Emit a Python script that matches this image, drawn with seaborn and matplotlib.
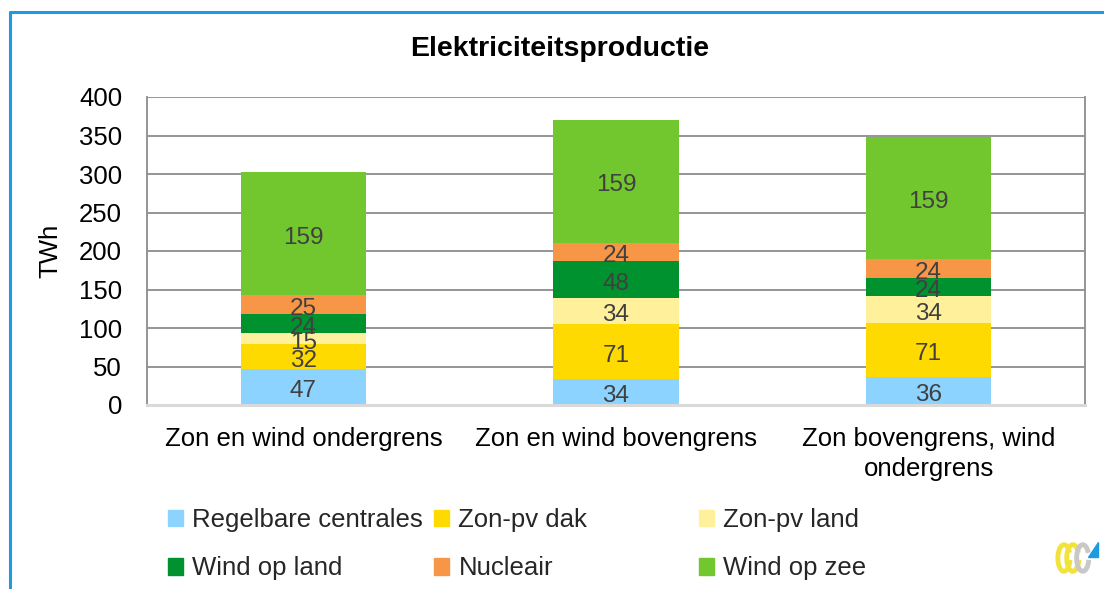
import pandas as pd
import matplotlib.pyplot as plt
import matplotlib.patches as mpatches
from matplotlib.lines import Line2D
import seaborn as sns

# data
scenarios = ['Zon en wind ondergrens', 'Zon en wind bovengrens', 'Zon bovengrens, wind\nondergrens']
sources = ['Regelbare centrales', 'Zon-pv dak', 'Zon-pv land', 'Wind op land', 'Nucleair', 'Wind op zee']
regelbare = [47, 34, 36]
zon_dak = [32, 71, 71]
zon_land = [15, 34, 34]
wind_land = [24, 48, 24]
nucleair = [25, 24, 24]
wind_zee = [159, 159, 159]
colors = ['#8DD3FF', '#FFDA00', '#FFF19C', '#00922F', '#F79646', '#72C62E']

rows = []
for name, vals in zip(sources, [regelbare, zon_dak, zon_land, wind_land, nucleair, wind_zee]):
    for sc, v in zip(scenarios, vals):
        rows.append({'scenario': sc, 'bron': name, 'TWh': v})
df = pd.DataFrame(rows)

sns.set_theme(style='white')
plt.rcParams['font.family'] = ['Liberation Sans', 'DejaVu Sans']

fig = plt.figure(figsize=(11.04, 5.89), dpi=100)
ax = fig.add_axes([147/1104, 1-405/589, (1085-147)/1104, (405-97)/589])

# seaborn stacks the last hue level at the bottom, so reverse the order
hue_order = sources[::-1]
pal = dict(zip(sources, colors))
sns.histplot(data=df, x='scenario', weights='TWh', hue='bron', hue_order=hue_order,
             multiple='stack', discrete=True, shrink=0.4, palette=pal,
             alpha=1, linewidth=0, legend=False, ax=ax)

for cont in ax.containers:
    ax.bar_label(cont, labels=['%d' % round(b.get_height()) for b in cont],
                 label_type='center', fontsize=17.5, color='#404040', padding=-3)

ax.set_xlim(-0.5, 2.5)
ax.set_ylim(0, 400)
ax.set_yticks(range(0, 401, 50))
ax.set_xticks(range(3))
ax.set_xticklabels(scenarios, fontsize=18.5, color='#000000', linespacing=1.3, va='top')
ax.tick_params(axis='x', length=0, pad=16)
ax.tick_params(axis='y', length=0, pad=18, labelsize=18.5, labelcolor='#000000')
ax.yaxis.grid(True, color='#8C8C8C', linewidth=1.3)
ax.set_axisbelow(True)
ax.set_xlabel('')
ax.set_ylabel('TWh', fontsize=18.5, color='#000000')
ax.yaxis.set_label_coords((62-147)/938, 0.5)
for s in ['left', 'right']:
    ax.spines[s].set_color('#8C8C8C')
    ax.spines[s].set_linewidth(1.3)
ax.spines['top'].set_visible(False)
ax.spines['bottom'].set_color('#D9D9D9')
ax.spines['bottom'].set_linewidth(2.2)

fig.text(560/1104, 1-49/589, 'Elektriciteitsproductie', ha='center', va='center',
         fontsize=20.5, fontweight='bold', color='#000000')

# legend, three columns with two rows each
col_x = [168, 434, 699]
for i in range(3):
    idx = [i, i + 3]
    handles = [mpatches.Patch(color=colors[j]) for j in idx]
    labels = [sources[j] for j in idx]
    fig.legend(handles, labels, loc='upper left', bbox_to_anchor=(col_x[i]/1104, 1-508/589),
               frameon=False, fontsize=18.5, handlelength=0.6, handleheight=0.6,
               handletextpad=0.35, labelspacing=0.95, borderaxespad=0, borderpad=0)

# outer frame (top and left edge)
fig.add_artist(Line2D([10/1104, 10/1104], [0, 1-12/589], color='#1E9BE0', linewidth=2.2))
fig.add_artist(Line2D([10/1104, 1], [1-12/589, 1-12/589], color='#1E9BE0', linewidth=2.2))

# small logo bottom right
lx, ly = 1075/1104, 1-558/589
for dx, c in [(-0.010, '#F2E23C'), (-0.002, '#F2E23C'), (0.007, '#C8C8C8')]:
    fig.add_artist(mpatches.Arc((lx + dx, ly), 0.011, 0.045, theta1=60, theta2=330,
                                edgecolor=c, linewidth=3.5, transform=fig.transFigure))
fig.add_artist(mpatches.Polygon([[lx+0.012, ly+0.002], [lx+0.021, ly+0.002], [lx+0.021, ly+0.027]],
                                closed=True, color='#1E9BE0', transform=fig.transFigure))

fig.savefig('out.png', dpi=100, facecolor='white')
